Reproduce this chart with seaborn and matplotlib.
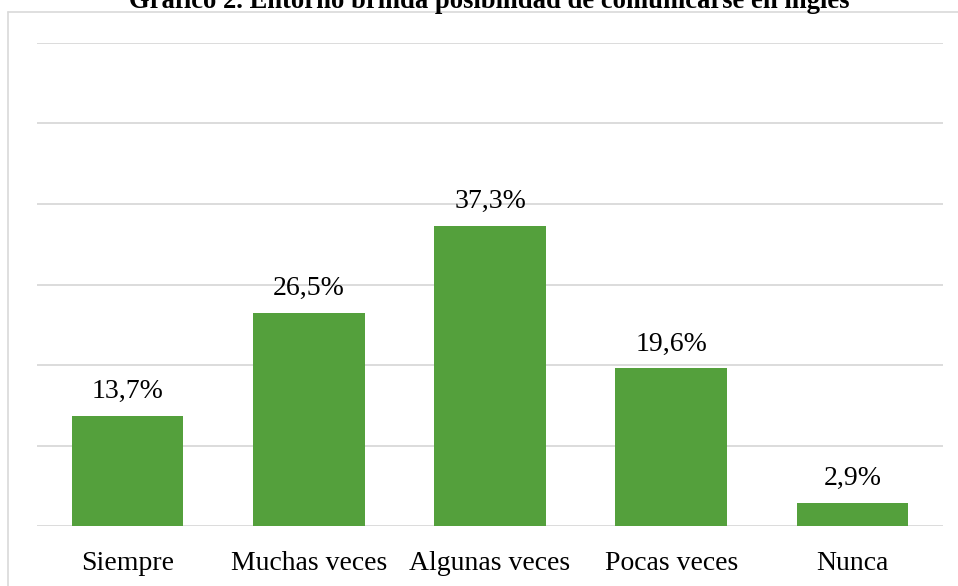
import matplotlib
matplotlib.use("Agg")
import matplotlib.pyplot as plt
import seaborn as sns
import pandas as pd
from matplotlib.lines import Line2D

categories = ["Siempre", "Muchas veces", "Algunas veces", "Pocas veces", "Nunca"]
values = [13.7, 26.5, 37.3, 19.6, 2.9]
labels = ["13,7%", "26,5%", "37,3%", "19,6%", "2,9%"]
title = "Gráfico 2. Entorno brinda posibilidad de comunicarse en inglés"

sns.set_theme(style="white")
plt.rcParams["font.family"] = ["Liberation Serif", "DejaVu Serif"]

df = pd.DataFrame({"cat": categories, "val": values})

fig = plt.figure(figsize=(9.58, 5.86), dpi=100)
ax = fig.add_axes([37/958, 60/586, (943-37)/958, (526-43)/586])

sns.barplot(data=df, x="cat", y="val", color="#54A03C", width=0.615,
            saturation=1, ax=ax, zorder=3, linewidth=0)

ax.set_ylim(0, 60)
ax.set_xlim(-0.5, 4.5)
ax.set_yticks(range(0, 61, 10))
ax.yaxis.grid(True, color="#D9D9D9", linewidth=1.3, zorder=0)
ax.set_axisbelow(True)
ax.tick_params(axis="y", left=False, labelleft=False)
ax.tick_params(axis="x", bottom=False, pad=12, labelsize=20, labelcolor="black")
for s in ax.spines.values():
    s.set_visible(False)
ax.set_xlabel("")
ax.set_ylabel("")

for i, (v, lab) in enumerate(zip(values, labels)):
    ax.annotate(lab, (i, v), xytext=(0, 12.5), textcoords="offset points",
                ha="center", va="baseline", fontsize=20, color="black")

# chart border (light gray)
fig.add_artist(Line2D([8/958, 8/958], [0, 1 - 12/586], transform=fig.transFigure,
                      color="#D9D9D9", linewidth=1.2))
fig.add_artist(Line2D([8/958, 1], [1 - 12/586, 1 - 12/586], transform=fig.transFigure,
                      color="#D9D9D9", linewidth=1.2))

fig.text(489/958, 1 - 7.5/586, title, ha="center", va="baseline",
         fontsize=19.2, fontweight="bold", color="black", zorder=5)

fig.savefig("out.png", dpi=100)
